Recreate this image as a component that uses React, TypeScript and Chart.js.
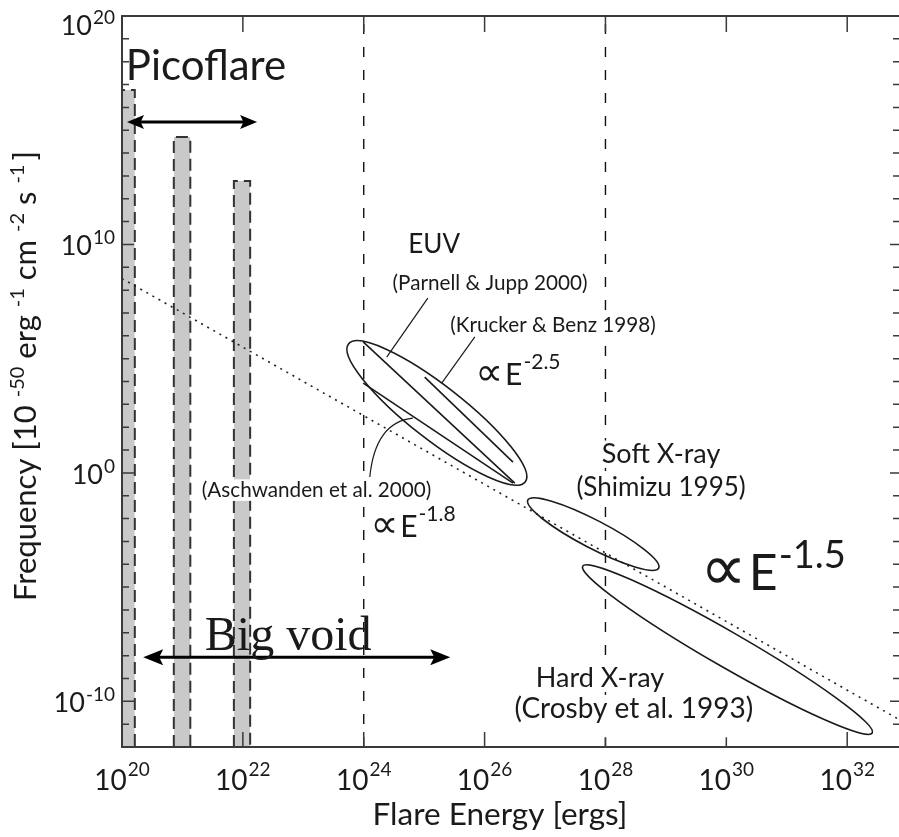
import React, { useEffect, useRef } from 'react';
import { Chart, registerables } from 'chart.js';

Chart.register(...registerables);

const WIDTH = 899;
const HEIGHT = 837;

// axis ranges: flare energy (erg) and frequency
const E_MIN = 1e20;
const E_MAX = 7.2e32;
const F_MIN = 1e-12;
const F_MAX = 1e20;

// labelled decades
const energyTickExps = [20, 22, 24, 26, 28, 30, 32];
const freqTickExps = [20, 10, 0, -10];

// picoflare candidate bands: energy interval and frequency ceiling
const bandLow = [1e20, 7.2e20, 7.1e21];
const bandHigh = [1.63e20, 1.35e21, 1.32e22];
const bandTop = [5.8e16, 5e14, 6e12];

// overall E^-1.5 trend
const trendE = [1e20, 7.2e32];
const trendF = [3.2e8, 1.6e-11];

// instrument limits (vertical dashed)
const limitE = [1e24, 1e28];

// EUV power-law fits
const parnellE = [9.8e23, 3.16e26];
const parnellF = [5.4e5, 0.355];
const aschwandenE = [9.8e23, 2.95e26];
const aschwandenF = [8.5e3, 0.355];
const kruckerE = [1.02e25, 2.95e26];
const kruckerF = [1.55e4, 2.95];

// observed ranges: EUV, soft X-ray, hard X-ray (long-axis end points, relative width)
const rangeE1 = [5.6e23, 5.2e26, 4.2e27];
const rangeF1 = [4.4e5, 0.065, 8.3e-5];
const rangeE2 = [4.7e26, 7.6e28, 2.6e32];
const rangeF2 = [0.4, 6.8e-5, 4.1e-12];
const rangeWidth = [0.24, 0.19, 0.105];

// leader lines from the citation labels
const parnellLeaderE = [1.15e25, 2.4e24];
const parnellLeaderF = [4.47e7, 1.17e5];
const kruckerLeaderE = [6.9e25, 1.95e25];
const kruckerLeaderF = [8.9e5, 8.5e3];
const aschwandenLeaderE = [6.5e24, 1.55e24, 1.26e24];
const aschwandenLeaderF = [251, 166, 0.66];

// double arrows
const picoArrowE = [1.21e20, 1.72e22];
const picoArrowF = 2.3e15;
const voidArrowE = [2.24e20, 2.7e25];
const voidArrowF = 8.5e-9;

const SANS = "Lato, 'DejaVu Sans', sans-serif";
const SERIF = "'Liberation Serif', 'Times New Roman', serif";
const INK = '#1a1a1a';
const AXIS = '#3a3a3a';

type Seg = { t: string; size: number; rise?: number; gap?: number };
type Block = {
  segs: Seg[];
  le: number; // log10 energy of anchor
  lf: number; // log10 frequency of baseline
  align: 'left' | 'center' | 'right';
  family?: string;
  bg?: boolean;
  padBottom?: number;
};

const sup = (t: string, size: number, rise: number, gap = 1): Seg => ({ t, size, rise, gap });
const propTo = (size: number, exp: string, supSize: number, rise: number): Seg[] => [
  { t: '\u221D', size: size * 1.3 },
  { t: 'E', size, gap: 2 },
  sup(exp, supSize, rise),
];

const blocks: Block[] = [
  { segs: [{ t: 'Picoflare', size: 42 }], le: 21.39, lf: 17.2, align: 'center' },
  { segs: [{ t: 'Big void', size: 48 }], le: 22.75, lf: -7.76, align: 'center', family: SERIF },
  { segs: [{ t: 'EUV', size: 26 }], le: 25.165, lf: 9.62, align: 'center', bg: true },
  { segs: [{ t: '(Parnell & Jupp 2000)', size: 20.7 }], le: 26.09, lf: 8.0, align: 'center', bg: true },
  { segs: [{ t: '(Krucker & Benz 1998)', size: 20.7 }], le: 25.43, lf: 6.16, align: 'left', bg: true },
  { segs: propTo(30, '-2.5', 21, 16), le: 25.845, lf: 3.84, align: 'left' },
  { segs: [{ t: '(Aschwanden et al. 2000)', size: 20.7 }], le: 23.22, lf: -1.06, align: 'center', bg: true },
  { segs: propTo(30, '-1.8', 21, 16), le: 24.11, lf: -2.81, align: 'left' },
  { segs: [{ t: 'Soft X-ray', size: 27 }], le: 28.92, lf: 0.43, align: 'center', bg: true },
  { segs: [{ t: '(Shimizu 1995)', size: 26 }], le: 28.92, lf: -1.02, align: 'center', bg: true },
  { segs: propTo(50, '-1.5', 38, 22), le: 29.57, lf: -5.13, align: 'left' },
  { segs: [{ t: 'Hard X-ray', size: 27 }], le: 27.91, lf: -9.38, align: 'center', bg: true },
  { segs: [{ t: '(Crosby et al. 1993)', size: 28 }], le: 28.47, lf: -10.74, align: 'center', bg: true, padBottom: 14 },
];

function drawRich(
  ctx: CanvasRenderingContext2D,
  segs: Seg[],
  x: number,
  y: number,
  align: 'left' | 'center' | 'right',
  family: string,
  bg = false,
  padBottom = 0,
) {
  const widths = segs.map((s) => {
    ctx.font = `${s.size}px ${family}`;
    return ctx.measureText(s.t).width;
  });
  const total = widths.reduce((acc, w, i) => acc + w + (segs[i].gap || 0), 0);
  const start = align === 'center' ? x - total / 2 : align === 'right' ? x - total : x;
  if (bg) {
    const top = Math.min(...segs.map((s) => y - (s.rise || 0) - s.size * 0.76));
    const bottom = y + segs[0].size * 0.18 + padBottom;
    ctx.fillStyle = '#ffffff';
    ctx.fillRect(start - 1, top - 2, total + 2, bottom - top + 2);
  }
  ctx.fillStyle = INK;
  ctx.textBaseline = 'alphabetic';
  ctx.textAlign = 'left';
  let cx = start;
  segs.forEach((s, i) => {
    cx += s.gap || 0;
    ctx.font = `${s.size}px ${family}`;
    ctx.fillText(s.t, cx, y - (s.rise || 0));
    cx += widths[i];
  });
}

function arrowHead(ctx: CanvasRenderingContext2D, x: number, y: number, dir: number, len: number, half: number) {
  ctx.beginPath();
  ctx.moveTo(x, y);
  ctx.lineTo(x - dir * len, y - half);
  ctx.lineTo(x - dir * len * 0.8, y);
  ctx.lineTo(x - dir * len, y + half);
  ctx.closePath();
  ctx.fill();
}

const decorations = {
  id: 'decorations',
  afterDatasetsDraw(chart: Chart) {
    const ctx = chart.ctx;
    const xs = chart.scales.x;
    const ys = chart.scales.y;
    const X = (e: number) => xs.getPixelForValue(e);
    const Y = (f: number) => ys.getPixelForValue(f);
    const area = chart.chartArea;

    ctx.save();
    ctx.beginPath();
    ctx.rect(area.left, area.top, area.right - area.left, area.bottom - area.top);
    ctx.clip();

    // observed ranges
    ctx.strokeStyle = INK;
    ctx.lineWidth = 1.6;
    ctx.setLineDash([]);
    rangeE1.forEach((_, i) => {
      const x1 = X(rangeE1[i]);
      const y1 = Y(rangeF1[i]);
      const x2 = X(rangeE2[i]);
      const y2 = Y(rangeF2[i]);
      const a = Math.hypot(x2 - x1, y2 - y1) / 2;
      ctx.beginPath();
      ctx.ellipse((x1 + x2) / 2, (y1 + y2) / 2, a, a * rangeWidth[i], Math.atan2(y2 - y1, x2 - x1), 0, Math.PI * 2);
      ctx.stroke();
    });

    // leader lines
    ctx.lineWidth = 1.2;
    const seg = (es: number[], fs: number[]) => {
      ctx.beginPath();
      ctx.moveTo(X(es[0]), Y(fs[0]));
      ctx.lineTo(X(es[1]), Y(fs[1]));
      ctx.stroke();
    };
    seg(parnellLeaderE, parnellLeaderF);
    seg(kruckerLeaderE, kruckerLeaderF);
    ctx.beginPath();
    ctx.moveTo(X(aschwandenLeaderE[0]), Y(aschwandenLeaderF[0]));
    ctx.quadraticCurveTo(
      X(aschwandenLeaderE[1]),
      Y(aschwandenLeaderF[1]),
      X(aschwandenLeaderE[2]),
      Y(aschwandenLeaderF[2]),
    );
    ctx.stroke();

    // double arrows
    ctx.fillStyle = '#000';
    ctx.strokeStyle = '#000';
    const dbl = (es: number[], f: number, lw: number, len: number, half: number) => {
      const xa = X(es[0]);
      const xb = X(es[1]);
      const yy = Y(f);
      ctx.lineWidth = lw;
      ctx.beginPath();
      ctx.moveTo(xa + len * 0.7, yy);
      ctx.lineTo(xb - len * 0.7, yy);
      ctx.stroke();
      arrowHead(ctx, xa, yy, -1, len, half);
      arrowHead(ctx, xb, yy, 1, len, half);
    };
    dbl(picoArrowE, picoArrowF, 3, 17, 7);
    dbl(voidArrowE, voidArrowF, 3, 20, 8);
    ctx.restore();

    // annotation text
    ctx.save();
    blocks.forEach((b) => {
      drawRich(ctx, b.segs, X(10 ** b.le), Y(10 ** b.lf), b.align, b.family || SANS, !!b.bg, b.padBottom || 0);
    });
    ctx.restore();

    // frame
    ctx.save();
    ctx.strokeStyle = AXIS;
    ctx.lineWidth = 2;
    ctx.setLineDash([]);
    ctx.beginPath();
    ctx.moveTo(area.right, area.top);
    ctx.lineTo(area.left, area.top);
    ctx.lineTo(area.left, area.bottom);
    ctx.lineTo(area.right, area.bottom);
    ctx.stroke();

    // frequency ticks every decade, both sides
    ctx.lineWidth = 1.5;
    for (let k = -12; k <= 20; k++) {
      const ty = Y(10 ** k);
      const major = k % 10 === 0;
      ctx.beginPath();
      ctx.moveTo(area.left, ty);
      ctx.lineTo(area.left + (major ? 12 : 7), ty);
      ctx.moveTo(area.right, ty);
      ctx.lineTo(area.right - (major ? 9 : 6), ty);
      ctx.stroke();
    }
    // energy ticks every second decade, top and bottom
    energyTickExps.forEach((k) => {
      const tx = X(10 ** k);
      ctx.beginPath();
      ctx.moveTo(tx, area.top);
      ctx.lineTo(tx, area.top + 16);
      ctx.moveTo(tx, area.bottom);
      ctx.lineTo(tx, area.bottom - 15);
      ctx.stroke();
    });
    ctx.restore();

    // annotations that sit over the bottom ticks
    ctx.save();
    blocks
      .filter((b) => b.padBottom)
      .forEach((b) => {
        drawRich(ctx, b.segs, X(10 ** b.le), Y(10 ** b.lf), b.align, b.family || SANS, true, b.padBottom || 0);
      });
    ctx.strokeStyle = AXIS;
    ctx.lineWidth = 2;
    ctx.beginPath();
    ctx.moveTo(area.left, area.bottom);
    ctx.lineTo(area.right, area.bottom);
    ctx.stroke();
    ctx.restore();

    // tick labels
    ctx.save();
    energyTickExps.forEach((k) => {
      drawRich(ctx, [{ t: '10', size: 28 }, sup(String(k), 19, 14)], X(10 ** k), area.bottom + 43, 'center', SANS);
    });
    freqTickExps.forEach((k) => {
      const ty = Y(10 ** k);
      const base = Math.max(ty + 11, area.top + 19);
      drawRich(ctx, [{ t: '10', size: 27 }, sup(k < 0 ? '-' + String(-k) : String(k), 19, 11)], area.left - 7, base, 'right', SANS);
    });

    // axis titles
    drawRich(ctx, [{ t: 'Flare Energy [ergs]', size: 31.5 }], 500, 825, 'center', SANS);
    ctx.translate(36, 376);
    ctx.rotate(-Math.PI / 2);
    drawRich(
      ctx,
      [
        { t: 'Frequency [10', size: 31 },
        sup('-50', 20, 12, 8),
        { t: ' erg', size: 31 },
        sup('-1', 20, 12, 8),
        { t: ' cm', size: 31 },
        sup('-2', 20, 12, 8),
        { t: ' s', size: 31 },
        sup('-1', 20, 12, 8),
        { t: ']', size: 31, gap: 4 },
      ],
      0,
      0,
      'center',
      SANS,
    );
    ctx.restore();
  },
};

function buildDatasets() {
  const sets: any[] = [];
  bandLow.forEach((lo, i) => {
    sets.push({
      data: [
        { x: lo, y: F_MIN },
        { x: lo, y: bandTop[i] },
        { x: bandHigh[i], y: bandTop[i] },
        { x: bandHigh[i], y: F_MIN },
      ],
      borderColor: '#333333',
      borderWidth: 2,
      borderDash: [12, 6],
      backgroundColor: '#c9c9c9',
      fill: 'start',
      order: 5,
    });
  });
  sets.push({
    data: trendE.map((e, i) => ({ x: e, y: trendF[i] })),
    borderColor: '#222222',
    borderWidth: 1.6,
    borderDash: [2, 5],
    fill: false,
    order: 3,
  });
  limitE.forEach((e) => {
    sets.push({
      data: [
        { x: e, y: F_MIN },
        { x: e, y: F_MAX },
      ],
      borderColor: '#111111',
      borderWidth: 1.4,
      borderDash: [10, 13],
      fill: false,
      order: 4,
    });
  });
  [
    [parnellE, parnellF],
    [aschwandenE, aschwandenF],
    [kruckerE, kruckerF],
  ].forEach(([es, fs]) => {
    sets.push({
      data: es.map((e, i) => ({ x: e, y: fs[i] })),
      borderColor: INK,
      borderWidth: 1.6,
      fill: false,
      order: 1,
    });
  });
  return sets;
}

export default function App() {
  const ref = useRef<HTMLCanvasElement>(null);
  useEffect(() => {
    const canvas = ref.current;
    if (!canvas) return;
    const chart = new Chart(canvas, {
      type: 'line',
      data: { datasets: buildDatasets() },
      options: {
        responsive: false,
        animation: false,
        events: [],
        layout: { padding: { left: 122, top: 16, right: 0, bottom: 90 } },
        scales: {
          x: { type: 'logarithmic', min: E_MIN, max: E_MAX, display: false },
          y: { type: 'logarithmic', min: F_MIN, max: F_MAX, display: false },
        },
        elements: { point: { radius: 0 }, line: { tension: 0 } },
        plugins: { legend: { display: false }, tooltip: { enabled: false } },
      },
      plugins: [decorations],
    });
    return () => chart.destroy();
  }, []);
  return (
    <div style={{ position: 'absolute', left: 0, top: 0, width: WIDTH, height: HEIGHT, background: '#ffffff' }}>
      <canvas ref={ref} width={WIDTH} height={HEIGHT} style={{ display: 'block' }} />
    </div>
  );
}
